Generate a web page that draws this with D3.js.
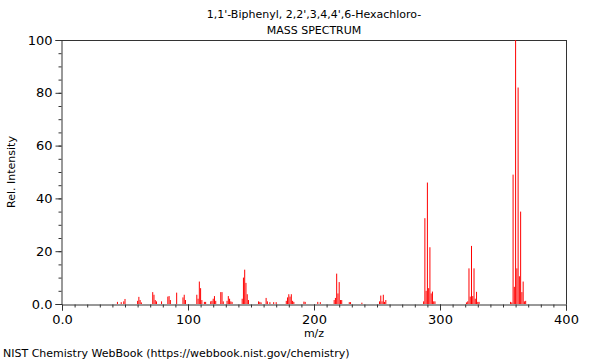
<!DOCTYPE html>
<html><head><meta charset="utf-8">
<script src="https://cdn.jsdelivr.net/npm/d3@7"></script>
<style>
body{margin:0;background:#fff;}
svg text{font-family:"DejaVu Sans",sans-serif;fill:#000;}
</style></head>
<body><svg id="c" width="600" height="360"></svg>
<script>
const titleLines = ["1,1'-Biphenyl, 2,2',3,4,4',6-Hexachloro-", "MASS SPECTRUM"];
const xLabel = "m/z";
const yLabel = "Rel. Intensity";
const footer = "NIST Chemistry WebBook (https://webbook.nist.gov/chemistry)";
const xTickValues = [0, 100, 200, 300, 400];
const xTickLabels = ["0.0", "100", "200", "300", "400"];
const yTickValues = [0, 20, 40, 60, 80, 100];
const yTickLabels = ["0.0", "20", "40", "60", "80", "100"];
const mz = [44,47,49,50,60,61,62,63,72,73,74,75,79,84,85,86,91,96,97,98,107,108,109,110,111,113,114,118,119,120,121,122,126,127,128,131,132,133,134,135,143,144,145,146,147,148,156,157,158,162,163,165,168,170,178,179,180,181,182,183,184,192,193,203,205,216,217,218,219,220,221,222,228,229,238,252,253,254,255,256,257,287,288,289,290,291,292,293,294,295,296,321,322,323,324,325,326,327,328,329,330,331,356,357,358,359,360,361,362,363,364,365,366,367,368];
const intensity = [0.8,0.7,1.0,1.9,1.2,2.7,1.5,0.6,4.5,3.5,1.5,1.0,1.0,2.8,3.0,1.5,4.3,2.5,3.5,1.5,3.5,2.0,8.5,6.0,1.5,0.8,0.8,1.0,1.2,2.0,3.0,1.2,4.5,4.5,1.0,1.2,3.0,2.0,1.0,0.8,2.0,10.0,13.0,8.0,3.7,1.5,1.0,0.8,0.6,2.3,1.0,0.7,0.7,0.7,1.2,2.5,3.7,2.8,3.7,1.2,0.8,0.9,0.8,0.8,0.7,1.5,2.3,11.5,4.0,8.3,1.5,1.5,0.7,0.7,0.5,1.0,3.2,1.0,3.5,0.8,1.5,1.0,32.5,5.0,46.0,6.0,21.5,4.0,4.7,1.0,1.0,0.6,1.0,13.5,2.8,22.0,3.0,13.5,2.0,4.6,0.8,0.8,0.8,0.6,49.0,6.5,100,13.5,82.0,10.5,35.0,4.5,8.5,1.0,1.2];

const svg = d3.select("#c");
const m = {l:62, r:566, t:40, b:304};
const x = d3.scaleLinear().domain([0,400]).range([m.l, m.r]);
const y = d3.scaleLinear().domain([0,100]).range([m.b, m.t]);
const axisColor = "#333";

// frame top and right
svg.append("line").attr("x1",m.l).attr("x2",m.r).attr("y1",m.t+0.5).attr("y2",m.t+0.5).attr("stroke",axisColor);
svg.append("line").attr("x1",m.r+0.5).attr("x2",m.r+0.5).attr("y1",m.t).attr("y2",m.b).attr("stroke",axisColor);

// peaks
svg.append("g").selectAll("line").data(mz).join("line")
  .attr("x1",(d)=>x(d)).attr("x2",(d)=>x(d))
  .attr("y1",y(0)).attr("y2",(d,i)=>y(intensity[i]))
  .attr("stroke","#ff0000").attr("stroke-width",1);

// x axis minor
const xMinor = d3.axisBottom(x).tickValues(d3.range(0,401,10)).tickSize(3).tickFormat("");
const gxm = svg.append("g").attr("transform",`translate(0,${m.b+0.5})`).call(xMinor);
gxm.select(".domain").remove();
gxm.selectAll("line").attr("stroke",axisColor);
const xMajor = d3.axisBottom(x).tickValues(xTickValues).tickSize(6).tickPadding(4)
  .tickFormat((d,i)=>xTickLabels[i]);
const gx = svg.append("g").attr("transform",`translate(0,${m.b+0.5})`).call(xMajor);
gx.select(".domain").attr("stroke",axisColor);
gx.selectAll("line").attr("stroke",axisColor);
gx.selectAll("text").attr("font-size",13).attr("font-family","DejaVu Sans");

// y axis
const yMinor = d3.axisLeft(y).tickValues(d3.range(0,101,5)).tickSize(3).tickFormat("");
const gym = svg.append("g").attr("transform",`translate(${m.l-0.5},0)`).call(yMinor);
gym.select(".domain").remove();
gym.selectAll("line").attr("stroke",axisColor);
const yMajor = d3.axisLeft(y).tickValues(yTickValues).tickSize(6).tickPadding(3)
  .tickFormat((d,i)=>yTickLabels[i]);
const gy = svg.append("g").attr("transform",`translate(${m.l-0.5},0)`).call(yMajor);
gy.select(".domain").attr("stroke",axisColor);
gy.selectAll("line").attr("stroke",axisColor);
gy.selectAll("text").attr("font-size",13).attr("font-family","DejaVu Sans");

// titles
svg.append("text").attr("x",314).attr("y",18).attr("text-anchor","middle").attr("font-size",11).text(titleLines[0]);
svg.append("text").attr("x",314).attr("y",34).attr("text-anchor","middle").attr("font-size",11).text(titleLines[1]);
svg.append("text").attr("x",314).attr("y",337).attr("text-anchor","middle").attr("font-size",11).text(xLabel);
svg.append("text").attr("transform","translate(15,172) rotate(-90)").attr("text-anchor","middle").attr("font-size",11).text(yLabel);
svg.append("text").attr("x",3).attr("y",357).attr("font-size",11).text(footer);
</script></body></html>
